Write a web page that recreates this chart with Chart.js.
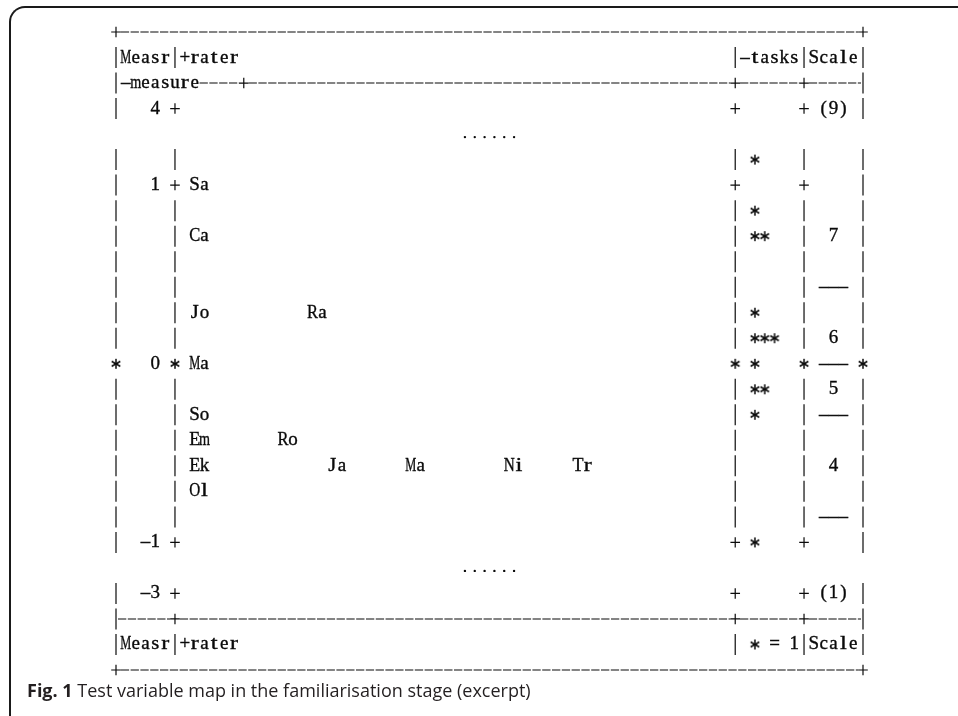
<!DOCTYPE html>
<html>
<head>
<meta charset="utf-8">
<title>Test variable map</title>
<script src="https://cdn.jsdelivr.net/npm/chart.js@4.4.1/dist/chart.umd.min.js"></script>
<style>
  html, body { margin: 0; padding: 0; background: #fff; overflow: hidden; }
  #frame {
    position: absolute; left: 9px; top: 6px; width: 1200px; height: 1000px;
    border-top: 2px solid #1a1a1a; border-left: 2px solid #1a1a1a;
    border-top-left-radius: 16px;
  }
  #wrap { position: absolute; left: 0; top: 0; width: 958px; height: 716px; }
  #caption {
    position: absolute; left: 27px; top: 680px; line-height: 20px;
    font-family: "Open Sans", sans-serif; font-size: 18px; color: #231f20;
    white-space: nowrap;
  }
</style>
</head>
<body>
<div id="frame"></div>
<div id="wrap"><canvas id="mapa" width="958" height="716"></canvas></div>
<div id="caption"><b>Fig. 1</b> Test variable map in the familiarisation stage (excerpt)</div>
<script>
const measureTicks = [4, 1, 0, -1, -3];
const raterNames = ["Sa", "Ca", "Jo", "Ra", "Ma", "So", "Em", "Ro", "Ek", "Ja", "Ma", "Ni", "Tr", "Ol"];
const raterMeasures = [1.0, 0.71, 0.29, 0.29, 0, -0.29, -0.43, -0.43, -0.57, -0.57, -0.57, -0.57, -0.57, -0.71];
const raterColumns = [8, 8, 8, 20, 8, 8, 8, 17, 8, 22, 30, 40, 47, 8];
const taskMeasures = [1.14, 0.86, 0.71, 0.29, 0.14, 0, -0.14, -0.29, -1.0];
const taskCounts = [1, 1, 2, 1, 3, 1, 2, 1, 1];
const scaleLabels = ["(9)", "7", "6", "5", "4", "(1)"];
const scaleMeasures = [4, 0.71, 0.14, -0.14, -0.57, -3];
const scaleThresholds = [0.43, 0, -0.29, -0.86];

// grade do mapa: linhas e colunas de caracteres
const zeroRow = 13;
const rowsPerLogit = 7;
const topRow = 3;
const bottomRow = 22;
const lastRow = 25;
const lastCol = 76;
const measureCol = 4;
const raterBar = 6;
const taskBar = 63;
const scaleBar = 70;
const taskStart = 65;
const scaleMid = 73;

const tinta = "#0a0a0a";
const fonte = '19px "Liberation Serif", "DejaVu Serif", serif';

function rowOf(v) {
  if (v >= 4) return topRow;
  if (v <= -3) return bottomRow;
  return Math.round(zeroRow - v * rowsPerLogit);
}

// asterisco usado como pointStyle
const starImg = document.createElement("canvas");
starImg.width = 12;
starImg.height = 12;
(function () {
  const c = starImg.getContext("2d");
  c.strokeStyle = tinta;
  c.lineWidth = 1.5;
  [90, 30, -30].forEach(function (a) {
    const r = a * Math.PI / 180, dx = Math.cos(r) * 5, dy = Math.sin(r) * 5;
    c.beginPath();
    c.moveTo(6 - dx, 6 - dy);
    c.lineTo(6 + dx, 6 + dy);
    c.stroke();
  });
})();

const taskPoints = [];
taskMeasures.forEach(function (m, i) {
  for (let k = 0; k < taskCounts[i]; k++) taskPoints.push({ x: taskStart + k, y: rowOf(m) });
});

const mapaAscii = {
  id: "mapaAscii",
  afterDatasetsDraw(chart) {
    const ctx = chart.ctx, sx = chart.scales.x, sy = chart.scales.y;
    const X = c => sx.getPixelForValue(c);
    const Y = r => sy.getPixelForValue(r);
    const cw = X(1) - X(0);
    ctx.save();
    ctx.fillStyle = tinta;
    ctx.strokeStyle = tinta;
    ctx.font = fonte;
    ctx.textAlign = "center";
    ctx.textBaseline = "middle";

    // cada caractere numa celula, como numa fonte monoespacada
    function charsAt(txt, px, py) {
      for (let i = 0; i < txt.length; i++) {
        let ch = txt[i];
        if (ch === " ") continue;
        if (ch === "-") ch = "\u2013";
        const w = ctx.measureText(ch).width;
        let f = 1;
        if (/[A-Za-z0-9]/.test(ch)) {
          if (w < 8) f = Math.min(8 / w, 1.3);
          else if (w > 11) f = 11 / w;
        }
        ctx.save();
        ctx.translate(px + i * cw, py);
        ctx.scale(f, 1);
        ctx.lineWidth = 0.35;
        ctx.fillText(ch, 0, 0);
        ctx.strokeText(ch, 0, 0);
        ctx.restore();
      }
    }
    function chars(txt, col, row) { charsAt(txt, X(col), Y(row)); }
    function bar(col, row) {
      ctx.lineWidth = 1.2;
      ctx.setLineDash([]);
      ctx.beginPath();
      ctx.moveTo(X(col), Y(row) - 10.5);
      ctx.lineTo(X(col), Y(row) + 10.5);
      ctx.stroke();
    }
    function plus(col, row) {
      const x = X(col), y = Y(row);
      ctx.lineWidth = 1.2;
      ctx.setLineDash([]);
      ctx.beginPath();
      ctx.moveTo(x - 4.8, y); ctx.lineTo(x + 4.8, y);
      ctx.moveTo(x, y - 5.2); ctx.lineTo(x, y + 5.2);
      ctx.stroke();
    }
    function star(col, row) { ctx.drawImage(starImg, X(col) - 6, Y(row) - 6); }
    function dashes(x0, x1, row) {
      ctx.lineWidth = 1.1;
      ctx.setLineDash([8.3, 1.5]);
      ctx.beginPath();
      ctx.moveTo(x0, Y(row));
      ctx.lineTo(x1, Y(row));
      ctx.stroke();
      ctx.setLineDash([]);
    }

    // bordas superior e inferior
    [0, lastRow].forEach(function (r) {
      plus(0, r); plus(lastCol, r);
      dashes(X(0) + 4.8, X(lastCol) - 4.8, r);
    });

    // cabecalhos
    [1, lastRow - 1].forEach(function (r) {
      [0, raterBar, taskBar, scaleBar, lastCol].forEach(c => bar(c, r));
      chars("Measr", 1, r);
      chars("+rater", raterBar + 1, r);
      chars("Scale", scaleBar + 1, r);
    });
    chars("-tasks", taskBar + 1, 1);
    star(taskStart, lastRow - 1);
    chars("= 1", taskStart + 2, lastRow - 1);

    // linha "-measure----+"
    bar(0, 2);
    chars("-measure", 1, 2);
    dashes(X(8.5), X(13) - 4.8, 2);
    plus(13, 2);
    dashes(X(13) + 4.8, X(taskBar) - 4.8, 2);
    plus(taskBar, 2);
    dashes(X(taskBar) + 4.8, X(scaleBar) - 4.8, 2);
    plus(scaleBar, 2);
    dashes(X(scaleBar) + 4.8, X(lastCol) - 2, 2);
    bar(lastCol, 2);

    // linha inferior "|-----+----"
    const rb = lastRow - 2;
    bar(0, rb);
    dashes(X(0) + 2, X(raterBar) - 4.8, rb);
    plus(raterBar, rb);
    dashes(X(raterBar) + 4.8, X(taskBar) - 4.8, rb);
    plus(taskBar, rb);
    dashes(X(taskBar) + 4.8, X(scaleBar) - 4.8, rb);
    plus(scaleBar, rb);
    dashes(X(scaleBar) + 4.8, X(lastCol) - 2, rb);
    bar(lastCol, rb);

    // corpo do mapa
    const tickRows = measureTicks.map(rowOf);
    for (let r = topRow; r <= bottomRow; r++) {
      if (r === topRow + 1 || r === bottomRow - 1) {
        for (let k = 0; k < 6; k++) {
          ctx.beginPath();
          ctx.arc(X(35.5 + k), Y(r) + 3, 1.2, 0, Math.PI * 2);
          ctx.fill();
        }
        continue;
      }
      if (r === zeroRow) {
        [0, raterBar, taskBar, scaleBar, lastCol].forEach(c => star(c, r));
      } else if (tickRows.indexOf(r) >= 0) {
        bar(0, r); bar(lastCol, r);
        [raterBar, taskBar, scaleBar].forEach(c => plus(c, r));
      } else {
        [0, raterBar, taskBar, scaleBar, lastCol].forEach(c => bar(c, r));
      }
    }

    // rotulos dos conjuntos de dados
    chart.data.datasets.forEach(function (ds, i) {
      if (!ds.align) return;
      const meta = chart.getDatasetMeta(i);
      meta.data.forEach(function (pt, j) {
        const txt = ds.data[j].name;
        let px = pt.x;
        if (ds.align === "right") px -= (txt.length - 1) * cw;
        if (ds.align === "center") px -= (txt.length - 1) * cw / 2;
        charsAt(txt, px, pt.y);
      });
    });
    ctx.restore();
  }
};

new Chart(document.getElementById("mapa"), {
  type: "scatter",
  data: {
    datasets: [
      {
        label: "measure",
        data: measureTicks.map(t => ({ x: measureCol, y: rowOf(t), name: String(t) })),
        pointRadius: 0,
        align: "right",
      },
      {
        label: "rater",
        data: raterNames.map((n, i) => ({ x: raterColumns[i], y: rowOf(raterMeasures[i]), name: n })),
        pointRadius: 0,
        align: "left",
      },
      {
        label: "tasks",
        data: taskPoints,
        pointStyle: starImg,
        pointRadius: 5,
      },
      {
        label: "Scale",
        data: scaleLabels.map((s, i) => ({ x: scaleMid, y: rowOf(scaleMeasures[i]), name: s })),
        pointRadius: 0,
        align: "center",
      },
      {
        label: "thresholds",
        data: scaleThresholds.map(t => ({ x: scaleMid, y: rowOf(t), name: "---" })),
        pointRadius: 0,
        align: "center",
      },
    ],
  },
  options: {
    responsive: false,
    animation: false,
    events: [],
    layout: { padding: { left: 116, right: 95, top: 32, bottom: 46 } },
    scales: {
      x: { type: "linear", min: 0, max: lastCol, display: false },
      y: { type: "linear", min: 0, max: lastRow, reverse: true, display: false },
    },
    plugins: {
      legend: { display: false },
      tooltip: { enabled: false },
    },
  },
  plugins: [mapaAscii],
});
</script>
</body>
</html>
